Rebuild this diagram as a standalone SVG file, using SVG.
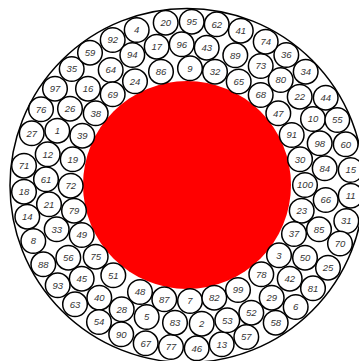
<svg xmlns="http://www.w3.org/2000/svg" width="359" height="361" viewBox="0 0 359 361">
<style>
.n circle{fill:#fff;stroke:#000;stroke-width:1.5}
.n text{font-family:"Liberation Sans",Arial,sans-serif;font-style:italic;font-size:9.5px;fill:#333;text-anchor:middle}
</style>
<rect width="359" height="361" fill="#fff"/>
<g id="root"><circle cx="187" cy="185.5" r="177" fill="#fff" stroke="#000" stroke-width="1.5"/></g>
<g id="center"><circle cx="187" cy="185" r="104" fill="#f00"/></g>
<g id="connectors"></g>
<g id="n1" class="n"><circle cx="57.3" cy="130.7" r="12.3"/><text x="57.3" y="134.1">1</text></g>
<g id="n2" class="n"><circle cx="201.7" cy="323.7" r="12.3"/><text x="201.7" y="327.1">2</text></g>
<g id="n3" class="n"><circle cx="279" cy="255.3" r="12.3"/><text x="279" y="258.7">3</text></g>
<g id="n4" class="n"><circle cx="136.7" cy="30" r="12.3"/><text x="136.7" y="33.4">4</text></g>
<g id="n5" class="n"><circle cx="146.7" cy="317" r="12.3"/><text x="146.7" y="320.4">5</text></g>
<g id="n6" class="n"><circle cx="295.7" cy="307" r="12.3"/><text x="295.7" y="310.4">6</text></g>
<g id="n7" class="n"><circle cx="190" cy="301" r="12.3"/><text x="190" y="304.4">7</text></g>
<g id="n8" class="n"><circle cx="33.3" cy="241" r="12.3"/><text x="33.3" y="244.4">8</text></g>
<g id="n9" class="n"><circle cx="190" cy="68.3" r="12.3"/><text x="190" y="71.7">9</text></g>
<g id="n10" class="n"><circle cx="313" cy="119" r="12.3"/><text x="313" y="122.4">10</text></g>
<g id="n11" class="n"><circle cx="350.7" cy="195.7" r="12.3"/><text x="350.7" y="199.1">11</text></g>
<g id="n12" class="n"><circle cx="47.7" cy="154.3" r="12.3"/><text x="47.7" y="157.7">12</text></g>
<g id="n13" class="n"><circle cx="221.7" cy="344.3" r="12.3"/><text x="221.7" y="347.7">13</text></g>
<g id="n14" class="n"><circle cx="27.3" cy="216.7" r="12.3"/><text x="27.3" y="220.1">14</text></g>
<g id="n15" class="n"><circle cx="350.7" cy="170" r="12.3"/><text x="350.7" y="173.4">15</text></g>
<g id="n16" class="n"><circle cx="88" cy="88.7" r="12.3"/><text x="88" y="92.1">16</text></g>
<g id="n17" class="n"><circle cx="156.7" cy="46.7" r="12.3"/><text x="156.7" y="50.1">17</text></g>
<g id="n18" class="n"><circle cx="24" cy="191.7" r="12.3"/><text x="24" y="195.1">18</text></g>
<g id="n19" class="n"><circle cx="72.7" cy="159.3" r="12.3"/><text x="72.7" y="162.7">19</text></g>
<g id="n20" class="n"><circle cx="165.7" cy="22.7" r="12.3"/><text x="165.7" y="26.1">20</text></g>
<g id="n21" class="n"><circle cx="49" cy="204.3" r="12.3"/><text x="49" y="207.7">21</text></g>
<g id="n22" class="n"><circle cx="299.7" cy="96.7" r="12.3"/><text x="299.7" y="100.1">22</text></g>
<g id="n23" class="n"><circle cx="301.7" cy="210.7" r="12.3"/><text x="301.7" y="214.1">23</text></g>
<g id="n24" class="n"><circle cx="135" cy="81.3" r="12.3"/><text x="135" y="84.7">24</text></g>
<g id="n25" class="n"><circle cx="328" cy="267.7" r="12.3"/><text x="328" y="271.1">25</text></g>
<g id="n26" class="n"><circle cx="70" cy="108.7" r="12.3"/><text x="70" y="112.1">26</text></g>
<g id="n27" class="n"><circle cx="31.7" cy="133.3" r="12.3"/><text x="31.7" y="136.7">27</text></g>
<g id="n28" class="n"><circle cx="121.7" cy="309.3" r="12.3"/><text x="121.7" y="312.7">28</text></g>
<g id="n29" class="n"><circle cx="271.7" cy="297.7" r="12.3"/><text x="271.7" y="301.1">29</text></g>
<g id="n30" class="n"><circle cx="300" cy="159.3" r="12.3"/><text x="300" y="162.7">30</text></g>
<g id="n31" class="n"><circle cx="346.3" cy="221" r="12.3"/><text x="346.3" y="224.4">31</text></g>
<g id="n32" class="n"><circle cx="215" cy="71.7" r="12.3"/><text x="215" y="75.1">32</text></g>
<g id="n33" class="n"><circle cx="56.7" cy="229.3" r="12.3"/><text x="56.7" y="232.7">33</text></g>
<g id="n34" class="n"><circle cx="305.7" cy="71.7" r="12.3"/><text x="305.7" y="75.1">34</text></g>
<g id="n35" class="n"><circle cx="71.7" cy="69" r="12.3"/><text x="71.7" y="72.4">35</text></g>
<g id="n36" class="n"><circle cx="286.3" cy="55" r="12.3"/><text x="286.3" y="58.4">36</text></g>
<g id="n37" class="n"><circle cx="294" cy="234" r="12.3"/><text x="294" y="237.4">37</text></g>
<g id="n38" class="n"><circle cx="95.7" cy="113.3" r="12.3"/><text x="95.7" y="116.7">38</text></g>
<g id="n39" class="n"><circle cx="82.3" cy="135.7" r="12.3"/><text x="82.3" y="139.1">39</text></g>
<g id="n40" class="n"><circle cx="99.3" cy="297.7" r="12.3"/><text x="99.3" y="301.1">40</text></g>
<g id="n41" class="n"><circle cx="240.8" cy="30.7" r="12.3"/><text x="240.8" y="34.1">41</text></g>
<g id="n42" class="n"><circle cx="289.7" cy="278.7" r="12.3"/><text x="289.7" y="282.1">42</text></g>
<g id="n43" class="n"><circle cx="206.7" cy="47.7" r="12.3"/><text x="206.7" y="51.1">43</text></g>
<g id="n44" class="n"><circle cx="325.7" cy="97.7" r="12.3"/><text x="325.7" y="101.1">44</text></g>
<g id="n45" class="n"><circle cx="81.7" cy="278.7" r="12.3"/><text x="81.7" y="282.1">45</text></g>
<g id="n46" class="n"><circle cx="196.7" cy="348.3" r="12.3"/><text x="196.7" y="351.7">46</text></g>
<g id="n47" class="n"><circle cx="278.3" cy="113.3" r="12.3"/><text x="278.3" y="116.7">47</text></g>
<g id="n48" class="n"><circle cx="140" cy="292" r="12.3"/><text x="140" y="295.4">48</text></g>
<g id="n49" class="n"><circle cx="81.7" cy="235" r="12.3"/><text x="81.7" y="238.4">49</text></g>
<g id="n50" class="n"><circle cx="305" cy="257.7" r="12.3"/><text x="305" y="261.1">50</text></g>
<g id="n51" class="n"><circle cx="113.3" cy="275.3" r="12.3"/><text x="113.3" y="278.7">51</text></g>
<g id="n52" class="n"><circle cx="251.3" cy="312.7" r="12.3"/><text x="251.3" y="316.1">52</text></g>
<g id="n53" class="n"><circle cx="227.3" cy="320.3" r="12.3"/><text x="227.3" y="323.7">53</text></g>
<g id="n54" class="n"><circle cx="99" cy="322" r="12.3"/><text x="99" y="325.4">54</text></g>
<g id="n55" class="n"><circle cx="337.3" cy="120" r="12.3"/><text x="337.3" y="123.4">55</text></g>
<g id="n56" class="n"><circle cx="68.3" cy="257.7" r="12.3"/><text x="68.3" y="261.1">56</text></g>
<g id="n57" class="n"><circle cx="246.3" cy="337" r="12.3"/><text x="246.3" y="340.4">57</text></g>
<g id="n58" class="n"><circle cx="275.7" cy="322.7" r="12.3"/><text x="275.7" y="326.1">58</text></g>
<g id="n59" class="n"><circle cx="90" cy="52.7" r="12.3"/><text x="90" y="56.1">59</text></g>
<g id="n60" class="n"><circle cx="345.7" cy="144.3" r="12.3"/><text x="345.7" y="147.7">60</text></g>
<g id="n61" class="n"><circle cx="46" cy="179.3" r="12.3"/><text x="46" y="182.7">61</text></g>
<g id="n62" class="n"><circle cx="216.7" cy="24.3" r="12.3"/><text x="216.7" y="27.7">62</text></g>
<g id="n63" class="n"><circle cx="75" cy="304.3" r="12.3"/><text x="75" y="307.7">63</text></g>
<g id="n64" class="n"><circle cx="110.7" cy="70" r="12.3"/><text x="110.7" y="73.4">64</text></g>
<g id="n65" class="n"><circle cx="238.7" cy="81.5" r="12.3"/><text x="238.7" y="84.9">65</text></g>
<g id="n66" class="n"><circle cx="325.7" cy="200" r="12.3"/><text x="325.7" y="203.4">66</text></g>
<g id="n67" class="n"><circle cx="145.7" cy="343.3" r="12.3"/><text x="145.7" y="346.7">67</text></g>
<g id="n68" class="n"><circle cx="260.7" cy="95" r="12.3"/><text x="260.7" y="98.4">68</text></g>
<g id="n69" class="n"><circle cx="112.7" cy="94.3" r="12.3"/><text x="112.7" y="97.7">69</text></g>
<g id="n70" class="n"><circle cx="340" cy="243.5" r="12.3"/><text x="340" y="246.9">70</text></g>
<g id="n71" class="n"><circle cx="24" cy="165.7" r="12.3"/><text x="24" y="169.1">71</text></g>
<g id="n72" class="n"><circle cx="70.7" cy="185.7" r="12.3"/><text x="70.7" y="189.1">72</text></g>
<g id="n73" class="n"><circle cx="260.7" cy="66" r="12.3"/><text x="260.7" y="69.4">73</text></g>
<g id="n74" class="n"><circle cx="265.7" cy="41.7" r="12.3"/><text x="265.7" y="45.1">74</text></g>
<g id="n75" class="n"><circle cx="95.7" cy="256.7" r="12.3"/><text x="95.7" y="260.1">75</text></g>
<g id="n76" class="n"><circle cx="41" cy="109.3" r="12.3"/><text x="41" y="112.7">76</text></g>
<g id="n77" class="n"><circle cx="171" cy="347" r="12.3"/><text x="171" y="350.4">77</text></g>
<g id="n78" class="n"><circle cx="261.3" cy="274.3" r="12.3"/><text x="261.3" y="277.7">78</text></g>
<g id="n79" class="n"><circle cx="74" cy="210.7" r="12.3"/><text x="74" y="214.1">79</text></g>
<g id="n80" class="n"><circle cx="280.7" cy="80" r="12.3"/><text x="280.7" y="83.4">80</text></g>
<g id="n81" class="n"><circle cx="313" cy="288.3" r="12.3"/><text x="313" y="291.7">81</text></g>
<g id="n82" class="n"><circle cx="214.3" cy="297.7" r="12.3"/><text x="214.3" y="301.1">82</text></g>
<g id="n83" class="n"><circle cx="175" cy="322.7" r="12.3"/><text x="175" y="326.1">83</text></g>
<g id="n84" class="n"><circle cx="324.7" cy="168.3" r="12.3"/><text x="324.7" y="171.7">84</text></g>
<g id="n85" class="n"><circle cx="319" cy="229.3" r="12.3"/><text x="319" y="232.7">85</text></g>
<g id="n86" class="n"><circle cx="161" cy="71.7" r="12.3"/><text x="161" y="75.1">86</text></g>
<g id="n87" class="n"><circle cx="164.3" cy="299.3" r="12.3"/><text x="164.3" y="302.7">87</text></g>
<g id="n88" class="n"><circle cx="43.3" cy="264.3" r="12.3"/><text x="43.3" y="267.7">88</text></g>
<g id="n89" class="n"><circle cx="235.3" cy="55.3" r="12.3"/><text x="235.3" y="58.7">89</text></g>
<g id="n90" class="n"><circle cx="121.2" cy="334.3" r="12.3"/><text x="121.2" y="337.7">90</text></g>
<g id="n91" class="n"><circle cx="291.7" cy="135" r="12.3"/><text x="291.7" y="138.4">91</text></g>
<g id="n92" class="n"><circle cx="112.7" cy="40" r="12.3"/><text x="112.7" y="43.4">92</text></g>
<g id="n93" class="n"><circle cx="57.7" cy="285.3" r="12.3"/><text x="57.7" y="288.7">93</text></g>
<g id="n94" class="n"><circle cx="132.3" cy="55" r="12.3"/><text x="132.3" y="58.4">94</text></g>
<g id="n95" class="n"><circle cx="191.7" cy="21.7" r="12.3"/><text x="191.7" y="25.1">95</text></g>
<g id="n96" class="n"><circle cx="181.7" cy="44.3" r="12.3"/><text x="181.7" y="47.7">96</text></g>
<g id="n97" class="n"><circle cx="55" cy="88.7" r="12.3"/><text x="55" y="92.1">97</text></g>
<g id="n98" class="n"><circle cx="319.7" cy="143.3" r="12.3"/><text x="319.7" y="146.7">98</text></g>
<g id="n99" class="n"><circle cx="238" cy="290" r="12.3"/><text x="238" y="293.4">99</text></g>
<g id="n100" class="n"><circle cx="305" cy="185" r="12.3"/><text x="305" y="188.4">100</text></g>
</svg>
